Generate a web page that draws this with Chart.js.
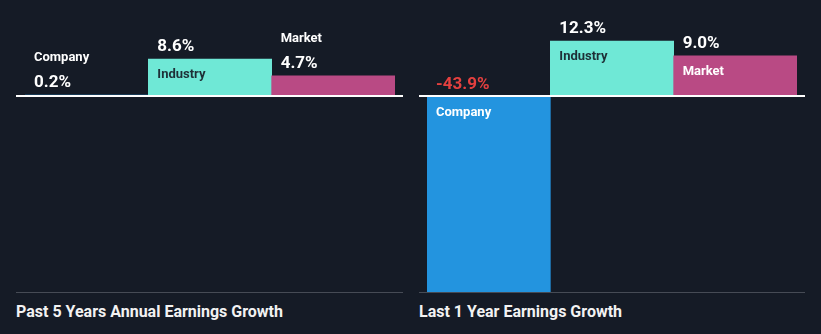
<!DOCTYPE html>
<html>
<head>
<meta charset="utf-8">
<script src="https://cdn.jsdelivr.net/npm/chart.js@4"></script>
<style>
  html, body { margin: 0; padding: 0; background: #151b26; }
  #wrap { position: relative; width: 821px; height: 334px; overflow: hidden; }
  canvas { position: absolute; top: 0; }
  .title {
    position: absolute; top: 302px; font-family: Roboto, sans-serif; font-weight: bold;
    font-size: 16px; color: #f2f2f2; line-height: 20px; white-space: nowrap;
  }
</style>
</head>
<body>
<div id="wrap">
  <canvas id="left"></canvas>
  <canvas id="right"></canvas>
  <div class="title" style="left:16px">Past 5 Years Annual Earnings Growth</div>
  <div class="title" style="left:419px">Last 1 Year Earnings Growth</div>
</div>
<script>
const categories = ['Company', 'Industry', 'Market'];
const past5YearsGrowth = [0.2, 8.6, 4.7];
const last1YearGrowth = [-43.9, 12.3, 9.0];

const barColors = ['#2394df', '#6fe8d6', '#b94a84'];
const innerLabelColors = ['#ffffff', '#1e3037', '#ffffff'];

// draws the zero line, the bottom rule and the text on/above each bar
const barTextPlugin = {
    id: 'barText',
    afterDatasetsDraw(chart, args, opts) {
        const ctx = chart.ctx;
        const area = chart.chartArea;
        const y = chart.scales.y;
        const zeroY = y.getPixelForValue(0);

        ctx.save();
        ctx.strokeStyle = '#ffffff';
        ctx.lineWidth = 2;
        ctx.beginPath();
        ctx.moveTo(area.left - opts.padL, zeroY);
        ctx.lineTo(area.right + opts.padR, zeroY);
        ctx.stroke();

        ctx.strokeStyle = '#464b55';
        ctx.lineWidth = 1;
        ctx.beginPath();
        ctx.moveTo(area.left - opts.padL, area.bottom + 0.5);
        ctx.lineTo(area.right + opts.padR, area.bottom + 0.5);
        ctx.stroke();

        const meta = chart.getDatasetMeta(0);
        const values = chart.data.datasets[0].data;
        ctx.textBaseline = 'middle';
        ctx.textAlign = 'left';
        meta.data.forEach((bar, i) => {
            const v = values[i];
            const x = bar.x - bar.width / 2 + 9;
            const valueText = v.toFixed(1) + '%';
            const label = chart.data.labels[i];
            if (v < 0) {
                ctx.font = 'bold 17px Roboto';
                ctx.fillStyle = '#e5403f';
                ctx.fillText(valueText, x, zeroY - 11);
                ctx.font = 'bold 13px Roboto';
                ctx.fillStyle = innerLabelColors[i];
                ctx.fillText(label, x, zeroY + 17);
            } else {
                const top = bar.y;
                const h = zeroY - top;
                ctx.font = 'bold 17px Roboto';
                ctx.fillStyle = '#ffffff';
                ctx.fillText(valueText, x, top - 12);
                ctx.font = 'bold 13px Roboto';
                if (h >= 30) {
                    ctx.fillStyle = innerLabelColors[i];
                    ctx.fillText(label, x, top + 16);
                } else {
                    ctx.fillStyle = '#ffffff';
                    ctx.fillText(label, x, top - 37);
                }
            }
        });
        ctx.restore();
    }
};

function makeChart(id, left, width, values, yMin, yMax, pad, lines) {
    const canvas = document.getElementById(id);
    canvas.style.left = left + 'px';
    canvas.style.width = width + 'px';
    canvas.style.height = '300px';
    return new Chart(canvas, {
        type: 'bar',
        data: {
            labels: categories,
            datasets: [{
                data: values,
                backgroundColor: barColors,
                borderWidth: 0,
                barPercentage: 1,
                categoryPercentage: 1,
            }],
        },
        plugins: [barTextPlugin],
        options: {
            responsive: false,
            animation: false,
            layout: { padding: pad },
            plugins: {
                legend: { display: false },
                tooltip: { enabled: false },
                barText: lines,
            },
            scales: {
                x: { display: false, offset: true },
                y: { display: false, min: yMin, max: yMax },
            },
        },
    });
}

document.getElementById('left').width = 410;
document.getElementById('left').height = 300;
document.getElementById('right').width = 411;
document.getElementById('right').height = 300;

makeChart('left', 0, 410, past5YearsGrowth, -45.8, 17.76,
    { left: 25, right: 15, top: 20, bottom: 8 }, { padL: 9, padR: 8 });
makeChart('right', 410, 411, last1YearGrowth, -43.9, 17.0,
    { left: 17, right: 24, top: 20, bottom: 8 }, { padL: 8, padR: 8 });
</script>
</body>
</html>
